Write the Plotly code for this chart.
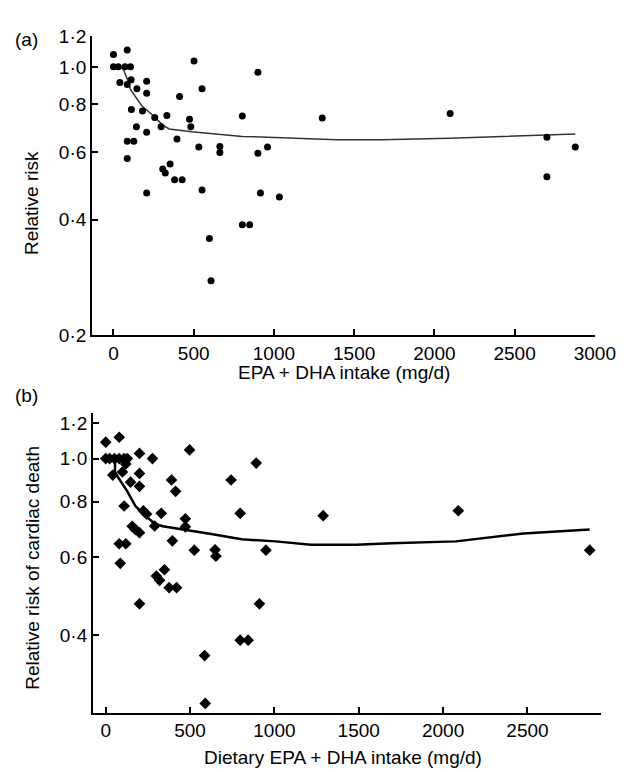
import plotly.graph_objects as go

# ---- panel (a): EPA + DHA intake vs relative risk ----
a_x = [0, 86, 0, 30, 72, 106, 40, 86, 110, 146, 207, 207, 112, 181, 257, 333,
       143, 207, 297, 474, 482, 86, 127, 86, 396, 412, 502, 552, 532, 663, 663,
       353, 307, 323, 381, 428, 207, 552, 803, 900, 900, 960, 916, 1034, 803,
       849, 598, 608, 1301, 2098, 2701, 2878, 2701]
a_y = [1.077, 1.107, 1.0, 1.0, 1.0, 1.0, 0.911, 0.899, 0.926, 0.877, 0.917,
       0.853, 0.774, 0.767, 0.738, 0.747, 0.698, 0.676, 0.698, 0.730, 0.698,
       0.640, 0.640, 0.577, 0.649, 0.837, 1.036, 0.877, 0.618, 0.620, 0.598,
       0.558, 0.542, 0.529, 0.508, 0.508, 0.469, 0.478, 0.745, 0.968, 0.596,
       0.618, 0.469, 0.458, 0.388, 0.388, 0.357, 0.277, 0.736, 0.756, 0.656,
       0.618, 0.517]
a_fit_x = [0, 60, 86, 106, 176, 247, 307, 347, 488, 803, 1392, 1673, 2094, 2697, 2878]
a_fit_y = [1.0, 0.99, 0.93, 0.873, 0.792, 0.747, 0.705, 0.689, 0.678, 0.659,
           0.646, 0.646, 0.652, 0.665, 0.668]

# ---- panel (b): dietary EPA + DHA intake vs relative risk of cardiac death ----
b_x = [0, 80, 0, 23, 52, 80, 109, 128, 119, 42, 99, 147, 200, 200, 200, 277,
       109, 223, 242, 329, 290, 157, 176, 200, 80, 119, 86, 200, 390, 414, 497,
       472, 472, 395, 348, 300, 319, 376, 420, 525, 648, 653, 743, 797, 892,
       950, 911, 797, 844, 586, 590, 1289, 2090, 2869]
b_y = [1.089, 1.117, 1.0, 1.0, 1.0, 1.0, 1.0, 1.0, 0.973, 0.918, 0.933, 0.885,
       1.027, 0.926, 0.866, 1.0, 0.782, 0.763, 0.75, 0.753, 0.705, 0.704, 0.692,
       0.681, 0.643, 0.643, 0.581, 0.471, 0.895, 0.844, 1.046, 0.732, 0.702,
       0.653, 0.562, 0.544, 0.532, 0.512, 0.512, 0.622, 0.623, 0.603, 0.895,
       0.753, 0.977, 0.622, 0.471, 0.390, 0.390, 0.360, 0.281, 0.744, 0.763,
       0.622]
b_fit_x = [0, 55, 55, 71, 128, 176, 233, 290, 338, 472, 625, 806, 1007, 1217,
           1484, 1694, 2076, 2477, 2869]
b_fit_y = [1.0, 1.0, 0.933, 0.91, 0.844, 0.782, 0.744, 0.714, 0.704, 0.692,
           0.676, 0.658, 0.651, 0.640, 0.640, 0.645, 0.651, 0.678, 0.692]

a_xticks = [0, 500, 1000, 1500, 2000, 2500, 3000]
b_xticks = [0, 500, 1000, 1500, 2000, 2500]
a_yticks = [0.2, 0.4, 0.6, 0.8, 1.0, 1.2]
b_yticks = [0.4, 0.6, 0.8, 1.0, 1.2]


def dot_label(v):
    # journal style: middle dot as decimal separator
    return f"{v:.1f}".replace(".", "\u00b7")


FONT = "Liberation Sans, Arial, sans-serif"
W, H = 633, 772

fig = go.Figure()
fig.add_trace(go.Scatter(x=a_fit_x, y=a_fit_y, mode="lines",
                         line=dict(color="#333333", width=1.5),
                         xaxis="x", yaxis="y", hoverinfo="skip"))
fig.add_trace(go.Scatter(x=a_x, y=a_y, mode="markers",
                         marker=dict(color="black", size=7, symbol="circle"),
                         xaxis="x", yaxis="y"))
fig.add_trace(go.Scatter(x=b_fit_x, y=b_fit_y, mode="lines",
                         line=dict(color="black", width=2.5),
                         xaxis="x2", yaxis="y2", hoverinfo="skip"))
fig.add_trace(go.Scatter(x=b_x, y=b_y, mode="markers",
                         marker=dict(color="black", size=9, symbol="diamond"),
                         xaxis="x2", yaxis="y2"))

ax_common = dict(showline=True, linecolor="black", linewidth=2,
                 ticks="inside", ticklen=6, tickcolor="black", tickwidth=2,
                 showgrid=False, zeroline=False,
                 tickfont=dict(family=FONT, size=19, color="black"))

fig.update_layout(
    width=W, height=H,
    margin=dict(l=0, r=0, t=0, b=0),
    paper_bgcolor="white", plot_bgcolor="white",
    showlegend=False,
    xaxis=dict(domain=[87 / W, 607 / W], range=[-133, 3000], anchor="y",
               tickvals=a_xticks, **ax_common),
    yaxis=dict(domain=[1 - 326 / H, 1 - 19 / H], type="log",
               range=[-0.699, 0.0792], anchor="x",
               tickvals=a_yticks, ticktext=[dot_label(v) for v in a_yticks],
               **ax_common),
    xaxis2=dict(domain=[88 / W, 613 / W], range=[-75, 2934], anchor="y2",
                tickvals=b_xticks, **ax_common),
    yaxis2=dict(domain=[1 - 714 / H, 1 - 406 / H], type="log",
                range=[-0.572, 0.1028], anchor="x2",
                tickvals=b_yticks, ticktext=[dot_label(v) for v in b_yticks],
                **ax_common),
)


def px_ann(text, x, y, angle=0, xanchor="center"):
    fig.add_annotation(text=text, x=x / W, y=1 - y / H, xref="paper", yref="paper",
                       showarrow=False, textangle=angle, xanchor=xanchor,
                       yanchor="middle",
                       font=dict(family=FONT, size=19, color="black"))


px_ann("(a)", 5, 22, xanchor="left")
px_ann("(b)", 5, 388, xanchor="left")
px_ann("Relative risk", 25, 190, angle=-90)
px_ann("Relative risk of cardiac death", 25, 565, angle=-90)
px_ann("EPA + DHA intake (mg/d)", 348, 364)
px_ann("Dietary EPA + DHA intake (mg/d)", 347, 760)

fig.write_html("out.html")
